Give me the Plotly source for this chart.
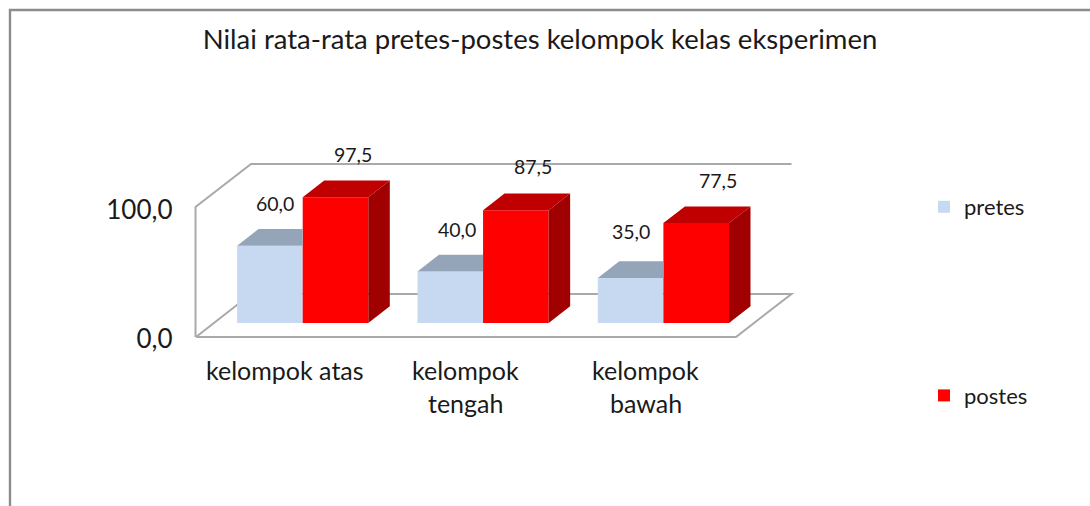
import plotly.graph_objects as go

categories = [["kelompok atas"], ["kelompok", "tengah"], ["kelompok", "bawah"]]
pretes = [60.0, 40.0, 35.0]
postes = [97.5, 87.5, 77.5]
axis_ticks = [0, 100]
axis_labels = ["0,0", "100,0"]
title = "Nilai rata-rata pretes-postes kelompok kelas eksperimen"

W, H = 1090, 506
FONT = "Lato"
INK = "#1a1a1a"
X0_PX, X_SCALE = 302.7, 180.35   # pixel of group 0 centre, pixels per group
Y0_PX, Y_SCALE = 323.0, 1.289    # pixel of value 0, pixels per value unit
bar_w = 65.6 / X_SCALE
depth_x = 21.5 / X_SCALE
depth_y = 16.7 / Y_SCALE
floor_drop = 15.7 / Y_SCALE      # axis labels sit on the front edge of the floor, below the bars' base

xr = [(0 - X0_PX) / X_SCALE, (W - X0_PX) / X_SCALE]
yr = [(Y0_PX - H) / Y_SCALE, Y0_PX / Y_SCALE]
idx = list(range(len(categories)))

def poly(xs, ys, color):
    return go.Scatter(x=xs + xs[:1], y=ys + ys[:1], mode="lines", fill="toself",
                      fillcolor=color, line=dict(width=0), hoverinfo="skip",
                      showlegend=False)

fig = go.Figure()
fig.add_bar(x=[i - bar_w / 2 for i in idx], y=pretes, width=bar_w, name="pretes",
            marker=dict(color="#c6d9f1", line=dict(width=0)), legendgroup="a")
fig.add_bar(x=[i + bar_w / 2 for i in idx], y=postes, width=bar_w, name="postes",
            marker=dict(color="#ff0000", line=dict(width=0)), legendgroup="b")

for i, v in zip(idx, pretes):
    l, r = i - bar_w, i
    fig.add_trace(poly([l, r, r, l + depth_x], [v, v, v + depth_y, v + depth_y], "#95a5b9"))
for i, v in zip(idx, postes):
    l, r = i, i + bar_w
    fig.add_trace(poly([l, r, r + depth_x, l + depth_x], [v, v, v + depth_y, v + depth_y], "#c00000"))
    fig.add_trace(poly([r, r + depth_x, r + depth_x, r], [0, depth_y, v + depth_y, v], "#a00000"))

def path(pts):
    return "M" + " L".join(f"{x / W:.5f},{1 - y / H:.5f}" for x, y in pts)

wall = "#a9a9a9"
shapes = []
for pts, c, w_ in [
    ([(10, H), (10, 10), (W, 10)], "#8c8c8c", 2.4),
    ([(195.5, 337), (195.5, 207), (251, 164), (791.5, 164)], wall, 2),
    ([(196, 337), (736, 337), (791.5, 294), (251, 294), (196, 337)], wall, 2),
]:
    shapes.append(dict(type="path", path=path(pts), xref="paper", yref="paper", layer="below",
                       line=dict(color=c, width=w_)))

pretes_shift = [(-28, 42), (-26, 42), (-32, 46)]
postes_shift = [(50, 43), (50, 44), (55, 43)]
ann = []
for i, v, (dx, dy) in zip(idx, pretes, pretes_shift):
    ann.append(dict(x=i, y=v, text=f"{v:.1f}".replace(".", ","), xshift=dx, yshift=dy, showarrow=False,
                    font=dict(family=FONT, size=19.5, color=INK)))
for i, v, (dx, dy) in zip(idx, postes, postes_shift):
    ann.append(dict(x=i, y=v, text=f"{v:.1f}".replace(".", ","), xshift=dx, yshift=dy, showarrow=False,
                    font=dict(family=FONT, size=19.5, color=INK)))
for i, lines in zip(idx, categories):
    for n, t in enumerate(lines):
        ann.append(dict(x=i, y=0, text=t, xshift=-17.5, yshift=-47 - 33 * n, showarrow=False,
                        font=dict(family=FONT, size=25, color=INK)))

fig.update_layout(
    width=W, height=H, autosize=False, margin=dict(l=0, r=0, t=0, b=0),
    paper_bgcolor="white", plot_bgcolor="rgba(0,0,0,0)", barmode="overlay",
    title=dict(text=title, x=540 / W, xanchor="center", y=1 - 39 / H, yanchor="middle",
               font=dict(family=FONT, size=27.5, color=INK)),
    xaxis=dict(range=xr, visible=False, domain=[0, 1], fixedrange=True),
    yaxis=dict(range=yr, domain=[0, 1], anchor="free", position=195.5 / W, showgrid=False, zeroline=False,
               tickmode="array", tickvals=[t - floor_drop for t in axis_ticks], ticktext=axis_labels,
               ticks="", ticklabelstandoff=23, showline=False,
               tickfont=dict(family=FONT, size=26, color=INK), fixedrange=True),
    legend=dict(x=924 / W, xanchor="left", y=1 - 186 / H, yanchor="top", tracegroupgap=157,
                bgcolor="rgba(0,0,0,0)", font=dict(family=FONT, size=22, color=INK)),
    shapes=shapes, annotations=ann,
)
fig.write_html("out.html", config={"displayModeBar": False},
               post_script="document.body.style.margin='0';")
